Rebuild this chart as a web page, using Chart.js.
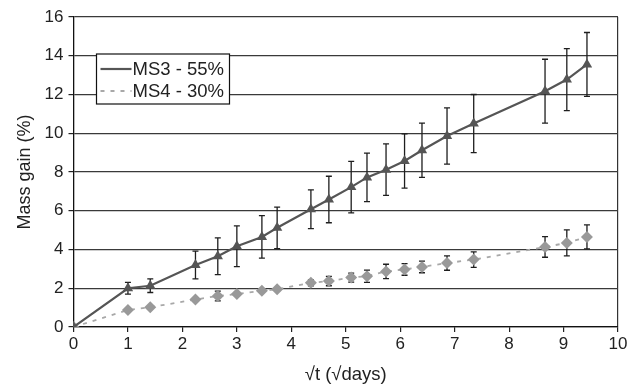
<!DOCTYPE html>
<html>
<head>
<meta charset="utf-8">
<script src="https://cdn.jsdelivr.net/npm/chart.js@4.4.1/dist/chart.umd.min.js"></script>
<style>
  html, body { margin: 0; padding: 0; background: #fff; }
  #wrap { width: 633px; height: 386px; }
</style>
</head>
<body>
<div id="wrap"><canvas id="massChart" width="633" height="386"></canvas></div>
<script>
// === DATA ===
const sqrtDays = [0, 1, 1.41, 2.24, 2.65, 3, 3.46, 3.74, 4.36, 4.69, 5.1, 5.39, 5.74, 6.08, 6.4, 6.86, 7.35, 8.66, 9.06, 9.43];

const ms3Gain = [0, 2.0, 2.13, 3.2, 3.65, 4.17, 4.65, 5.12, 6.08, 6.58, 7.22, 7.72, 8.12, 8.57, 9.12, 9.86, 10.5, 12.17, 12.77, 13.55];
const ms3Err  = [0, 0.3, 0.35, 0.72, 0.95, 1.05, 1.1, 1.07, 1.0, 1.2, 1.33, 1.25, 1.33, 1.4, 1.4, 1.45, 1.5, 1.65, 1.6, 1.65];

const ms4Gain = [0, 0.88, 1.02, 1.42, 1.6, 1.7, 1.87, 1.95, 2.28, 2.37, 2.55, 2.62, 2.87, 2.97, 3.1, 3.3, 3.48, 4.13, 4.34, 4.65];
const ms4Err  = [0, 0.05, 0.05, 0.05, 0.25, 0.08, 0.08, 0.08, 0.15, 0.24, 0.23, 0.32, 0.37, 0.3, 0.3, 0.37, 0.4, 0.53, 0.67, 0.62];

const seriesNames = ["MS3 - 55%", "MS4 - 30%"];
const xTicks = [0, 10, 1];   // min, max, step
const yTicks = [0, 16, 2];

const FONT = "'Liberation Sans', Arial, sans-serif";

const toPoints = (xs, ys) => xs.map((x, i) => ({ x: x, y: ys[i] }));

// === error bars, drawn under the markers ===
const errorBars = {
  id: "errorBars",
  beforeDatasetsDraw(chart) {
    const ctx = chart.ctx;
    const xs = chart.scales.x, ys = chart.scales.y;
    chart.data.datasets.forEach(ds => {
      if (!ds.errors) return;
      ctx.save();
      ctx.strokeStyle = "#1e1e1e";
      ctx.lineWidth = 1.3;
      ds.data.forEach((p, i) => {
        const e = ds.errors[i];
        if (!e) return;
        const px = xs.getPixelForValue(p.x);
        const top = ys.getPixelForValue(p.y + e);
        const bot = ys.getPixelForValue(p.y - e);
        ctx.beginPath();
        ctx.moveTo(px, top); ctx.lineTo(px, bot);
        ctx.moveTo(px - 3, top); ctx.lineTo(px + 3, top);
        ctx.moveTo(px - 3, bot); ctx.lineTo(px + 3, bot);
        ctx.stroke();
      });
      ctx.restore();
    });
  }
};

// === boxed legend inside the plot (top-left) ===
const boxLegend = {
  id: "boxLegend",
  afterDraw(chart) {
    const ctx = chart.ctx;
    const a = chart.chartArea;
    const left = a.left + 23, top = a.top + 37, w = 133, h = 50;
    ctx.save();
    ctx.fillStyle = "#fff";
    ctx.fillRect(left, top, w, h);
    ctx.strokeStyle = "#111";
    ctx.lineWidth = 1.2;
    ctx.strokeRect(left, top, w, h);
    chart.data.datasets.forEach((ds, i) => {
      const cy = top + 15 + i * 22;
      ctx.strokeStyle = ds.borderColor;
      ctx.lineWidth = ds.borderWidth;
      ctx.setLineDash(ds.borderDash || []);
      ctx.beginPath();
      ctx.moveTo(left + 4, cy); ctx.lineTo(left + 35, cy);
      ctx.stroke();
      ctx.setLineDash([]);
      ctx.fillStyle = ds.pointBackgroundColor;
      Chart.helpers.drawPoint(ctx, { pointStyle: ds.pointStyle, rotation: 0, borderWidth: 0 }, left + 20, cy);
      ctx.fillStyle = "#222";
      ctx.font = "18.5px " + FONT;
      ctx.textBaseline = "middle";
      ctx.fillText(ds.label, left + 36, cy + 1);
    });
    ctx.restore();
  }
};

new Chart(document.getElementById("massChart"), {
  type: "scatter",
  data: {
    datasets: [
      {
        label: seriesNames[0],
        data: toPoints(sqrtDays, ms3Gain),
        errors: ms3Err,
        showLine: true,
        borderColor: "#555555",
        borderWidth: 2.2,
        pointStyle: "triangle",
        pointRadius: 6,
        pointBackgroundColor: "#555555",
        pointBorderColor: "#555555",
        pointBorderWidth: 0
      },
      {
        label: seriesNames[1],
        data: toPoints(sqrtDays, ms4Gain),
        errors: ms4Err,
        showLine: true,
        borderColor: "#a8a8a8",
        borderWidth: 1.8,
        borderDash: [4, 6],
        pointStyle: "rectRot",
        pointRadius: 6,
        pointBackgroundColor: "#999999",
        pointBorderColor: "#999999",
        pointBorderWidth: 0
      }
    ]
  },
  options: {
    responsive: false,
    animation: false,
    layout: { padding: { top: 17, right: 15, left: 0, bottom: 0 } },
    plugins: {
      legend: { display: false },
      tooltip: { enabled: false }
    },
    scales: {
      x: {
        type: "linear",
        min: xTicks[0], max: xTicks[1],
        ticks: { stepSize: xTicks[2], color: "#222", padding: 2, font: { size: 17, family: FONT } },
        grid: {
          color: c => (c.tick && c.tick.value === xTicks[1]) ? "#333" : "rgba(0,0,0,0)",
          tickColor: "#222",
          tickLength: 5,
          lineWidth: 1.2
        },
        border: { color: "#111", width: 1.3 },
        title: { display: true, text: "√t (√days)", color: "#222", font: { size: 18.5, family: FONT }, padding: { top: 0, bottom: 0 } },
        afterFit: s => { s.height = 59; }
      },
      y: {
        min: yTicks[0], max: yTicks[1],
        ticks: { stepSize: yTicks[2], color: "#222", padding: 5, font: { size: 17, family: FONT } },
        grid: { color: "#3a3a3a", tickColor: "#222", tickLength: 5, lineWidth: 1.2 },
        border: { color: "#111", width: 1.3 },
        title: { display: true, text: "Mass gain (%)", color: "#222", font: { size: 18, family: FONT }, padding: { top: 14, bottom: 0 } },
        afterFit: s => { s.width = 73.5; }
      }
    }
  },
  plugins: [errorBars, boxLegend]
});
</script>
</body>
</html>
